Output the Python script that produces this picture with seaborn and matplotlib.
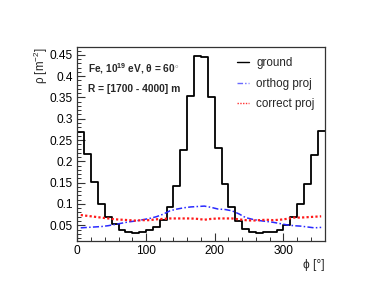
"""
Densidad rho vs phi: suelo vs proyecciones (estilo ROOT)
"""

import numpy as np
import pandas as pd
import matplotlib
matplotlib.use('Agg')
import matplotlib.pyplot as plt
from matplotlib.lines import Line2D
from matplotlib.ticker import MultipleLocator
import seaborn as sns

# bins de 10 grados en phi
bin_edges = list(range(0, 370, 10))
bin_centers = [e + 5 for e in bin_edges[:-1]]

ground = [0.270, 0.218, 0.151, 0.101, 0.070, 0.052, 0.040, 0.034, 0.033, 0.034,
          0.040, 0.046, 0.063, 0.094, 0.143, 0.226, 0.353, 0.448, 0.446, 0.351,
          0.231, 0.148, 0.092, 0.059, 0.041, 0.034, 0.033, 0.034, 0.034, 0.040,
          0.050, 0.070, 0.100, 0.147, 0.215, 0.272]

orthog = [0.044, 0.045, 0.046, 0.047, 0.049, 0.052, 0.055, 0.058, 0.060, 0.063,
          0.066, 0.070, 0.076, 0.084, 0.088, 0.091, 0.093, 0.094, 0.095, 0.092,
          0.088, 0.087, 0.084, 0.077, 0.068, 0.064, 0.061, 0.059, 0.057, 0.054,
          0.051, 0.049, 0.048, 0.046, 0.044, 0.045]

correct = [0.074, 0.072, 0.070, 0.068, 0.066, 0.064, 0.063, 0.062, 0.061, 0.062,
           0.062, 0.064, 0.065, 0.066, 0.066, 0.066, 0.066, 0.065, 0.063, 0.065,
           0.066, 0.066, 0.066, 0.064, 0.062, 0.061, 0.062, 0.063, 0.062, 0.063,
           0.065, 0.068, 0.068, 0.069, 0.070, 0.071]

labels = ['ground', 'orthog proj', 'correct proj']

df = pd.DataFrame({'phi': bin_centers, 'ground': ground,
                   'orthog': orthog, 'correct': correct})

sns.set_style('ticks')
plt.rcParams['font.family'] = ['Liberation Sans', 'DejaVu Sans']
plt.rcParams['mathtext.fontset'] = 'custom'
plt.rcParams['mathtext.rm'] = 'Liberation Sans'
plt.rcParams['mathtext.bf'] = 'Liberation Sans:bold'

fig = plt.figure(figsize=(3.87, 2.91), dpi=100)
ax = fig.add_axes([0.1997, 0.1708, 0.6391, 0.6687])

# histograma de suelo (contorno en escalera)
sns.histplot(data=df, x='phi', weights='ground', bins=36, binrange=(0, 360),
             element='step', fill=False, color='black', linewidth=1.3, ax=ax)

# proyecciones
sns.lineplot(data=df, x='phi', y='orthog', color='#2a2aff', linewidth=1.1,
             linestyle=(0, (4, 1.5, 1, 1.5)), ax=ax)
sns.lineplot(data=df, x='phi', y='correct', color='#ff1a1a', linewidth=1.6,
             linestyle=(0, (1, 1)), ax=ax)

ax.set_xlim(0, 360)
ax.set_ylim(0.0124, 0.469)
ax.set_xlabel('')
ax.set_ylabel('')

ax.xaxis.set_major_locator(MultipleLocator(100))
ax.xaxis.set_minor_locator(MultipleLocator(20))
ax.yaxis.set_minor_locator(MultipleLocator(0.01))
ax.set_yticks([0.05, 0.1, 0.15, 0.2, 0.25, 0.3, 0.35, 0.4, 0.45])
ax.set_yticklabels(['0.05', '0.1', '0.15', '0.2', '0.25', '0.3', '0.35', '0.4', '0.45'])
ax.tick_params(which='both', direction='in', labelsize=8.6, colors='#333333',
               labelcolor='black', top=False, right=False, pad=3)
ax.tick_params(which='major', length=5.5, width=0.8)
ax.tick_params(which='minor', length=2.8, width=0.7)
for sp in ax.spines.values():
    sp.set_visible(True)
    sp.set_linewidth(0.9)
    sp.set_color('#333333')

fig.text(0.106, 0.838, r'ρ [m$^{-2}$]', rotation=90, ha='center', va='top',
         fontsize=8.4)
fig.text(0.8388, 0.089, 'ϕ [°]', ha='right', va='center', fontsize=8.6)

ax.text(0.045, 0.885, r'Fe, 10$^{\mathbf{19}}$ eV, θ = 60$^{\circ}$',
        transform=ax.transAxes, fontsize=7.3, fontweight='bold', va='center')
ax.text(0.045, 0.785, 'R = [1700 - 4000] m', transform=ax.transAxes,
        fontsize=7.4, fontweight='bold', va='center')

handles = [Line2D([], [], color='black', linewidth=1.0),
           Line2D([], [], color='#6a6aff', linewidth=1.0, linestyle=(0, (4, 1.5, 1, 1.5))),
           Line2D([], [], color='#ff3030', linewidth=1.0, linestyle=(0, (1, 1)))]
fig.legend(handles, labels, loc='upper left', bbox_to_anchor=(0.613, 0.803),
           frameon=False, fontsize=8.4, handlelength=1.05, handletextpad=0.6,
           labelspacing=0.72, borderpad=0, borderaxespad=0)

plt.savefig('out.png', dpi=100)
plt.close()
